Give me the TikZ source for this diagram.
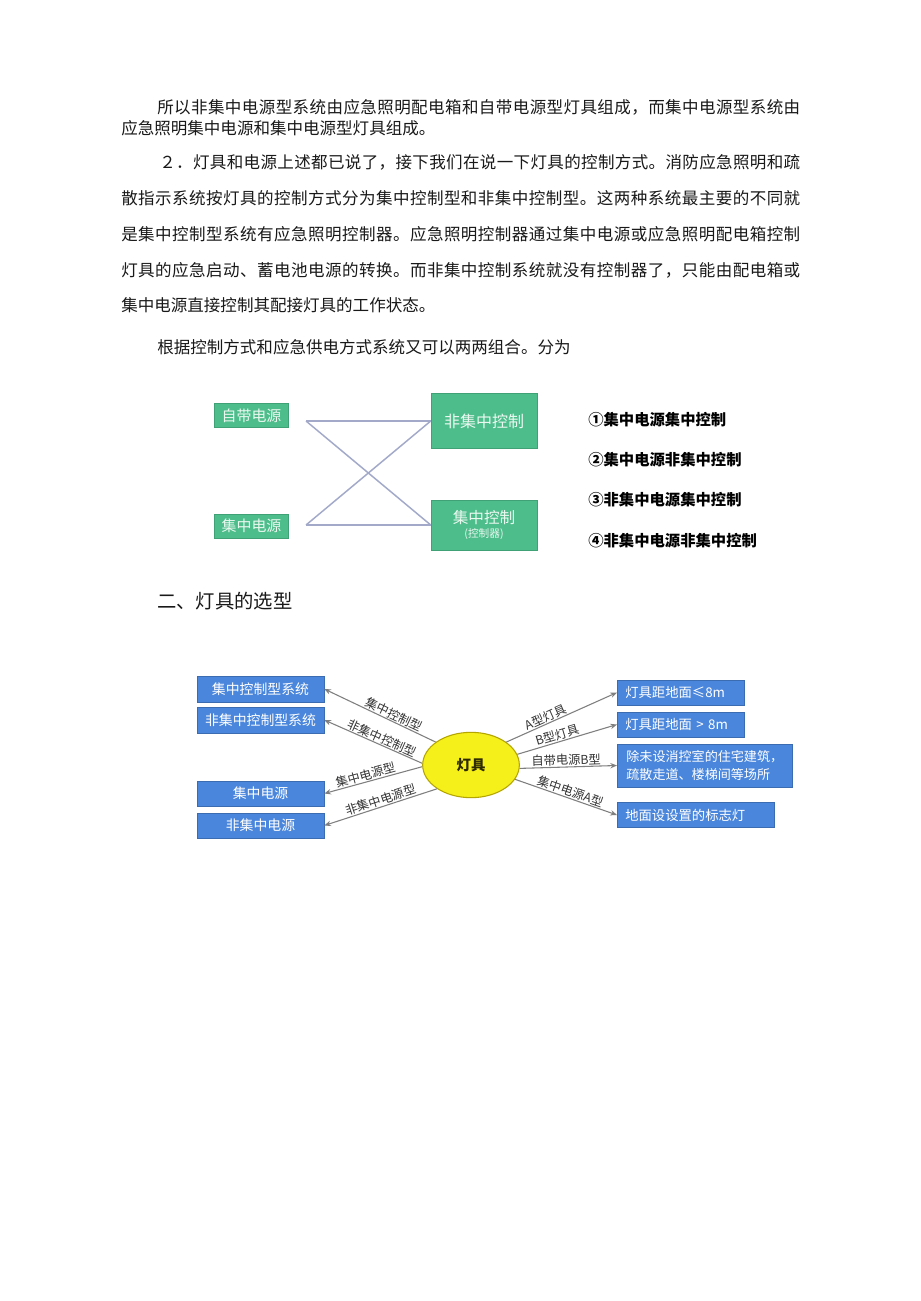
\documentclass[tikz,border=0pt]{standalone}
\usepackage{fontspec}
\setmainfont{Noto Sans CJK SC}
\usetikzlibrary{arrows.meta,shapes.geometric}
\ExplSyntaxOn
\NewDocumentCommand\jline{mm}{\makebox[#1][s]{\tl_map_inline:nn{#2}{##1\hfil}\unskip}}
\ExplSyntaxOff
\definecolor{green1}{HTML}{4DBD8B}
\definecolor{gtext}{HTML}{EAF8F0}
\definecolor{blue1}{HTML}{4A86DC}
\definecolor{linec}{HTML}{A2A9C9}
\definecolor{arrc}{HTML}{7F7F7F}
\definecolor{yel}{HTML}{F6F01A}
\definecolor{yelb}{HTML}{B5A500}
\begin{document}
\begin{tikzpicture}[x=0.75pt,y=-0.75pt,
  body/.style={anchor=west,inner sep=0pt,font=\fontsize{12.4}{14}\selectfont,text=black!90},
  gbox/.style={fill=green1,draw=green1!85!black,line width=0.4pt,inner sep=0pt,text=gtext},
  bbox/.style={fill=blue1,draw=blue1!80!black,line width=0.4pt,inner sep=0pt,text=white,font=\fontsize{10.4}{12}\selectfont},
  rbox/.style={bbox,anchor=west,inner xsep=6pt,minimum height=18.75pt,align=left,font=\fontsize{10}{12}\selectfont},
  xline/.style={draw=linec,line width=1.1pt},
  arr/.style={draw=arrc,line width=0.8pt,-{Stealth[length=5pt,width=4pt]}},
  lab/.style={sloped,above,inner sep=0.6pt,font=\fontsize{9.2}{10}\selectfont,text=black!80},
  listitem/.style={anchor=west,inner sep=0pt,font=\fontsize{11.5}{13}\selectfont\bfseries,text=black}
]
\useasboundingbox[fill=white] (0,0) rectangle (920,1301);

% body text
\node[body] (t1) at (157,107) {\jline{482.25pt}{所以非集中电源型系统由应急照明配电箱和自带电源型灯具组成，而集中电源型系统由}};
\node[body] (t2) at (121,128) {应急照明集中电源和集中电源型灯具组成。};
\node[body] (t3) at (159,162) {\jline{480.75pt}{２．灯具和电源上述都已说了，接下我们在说一下灯具的控制方式。消防应急照明和疏}};
\node[body] (t4) at (121,198) {\jline{509.25pt}{散指示系统按灯具的控制方式分为集中控制型和非集中控制型。这两种系统最主要的不同就}};
\node[body] (t5) at (121,234) {\jline{509.25pt}{是集中控制型系统有应急照明控制器。应急照明控制器通过集中电源或应急照明配电箱控制}};
\node[body] (t6) at (121,270) {\jline{509.25pt}{灯具的应急启动、蓄电池电源的转换。而非集中控制系统就没有控制器了，只能由配电箱或}};
\node[body] (t7) at (121,305) {集中电源直接控制其配接灯具的工作状态。};
\node[body] (t8) at (157,347) {根据控制方式和应急供电方式系统又可以两两组合。分为};

% diagram 1
\node[gbox,minimum width=55.5pt,minimum height=18pt,font=\fontsize{11.2}{12}\selectfont] (zd) at (251.5,415.5) {自带电源};
\node[gbox,minimum width=55.5pt,minimum height=18pt,font=\fontsize{11.2}{12}\selectfont] (jd) at (251.5,526) {集中电源};
\node[gbox,minimum width=79.5pt,minimum height=41.25pt,font=\fontsize{12}{13}\selectfont] (fk) at (484,421) {非集中控制};
\node[gbox,minimum width=79.5pt,minimum height=37.5pt,align=center] (jk) at (484,525) {\fontsize{11.7}{13}\selectfont 集中控制\\[-1pt]\fontsize{8}{9}\selectfont (控制器)};
\coordinate (pa) at (306,421);
\coordinate (pb) at (306,525);
\draw[xline] (pa) -- (fk.west);
\draw[xline] (pa) -- (jk.west);
\draw[xline] (pb) -- (jk.west);
\draw[xline] (pb) -- (fk.west);

\node[listitem] (l1) at (588,420) {①集中电源集中控制};
\node[listitem] (l2) at (588,460) {②集中电源非集中控制};
\node[listitem] (l3) at (588,500) {③非集中电源集中控制};
\node[listitem] (l4) at (588,541) {④非集中电源非集中控制};

% heading
\node[body,font=\fontsize{14.5}{16}\selectfont] (h) at (157,601) {二、灯具的选型};

% diagram 2
\node[ellipse,fill=yel,draw=yelb,line width=0.8pt,minimum width=72.5pt,minimum height=49pt,inner sep=0pt,font=\fontsize{10.8}{12}\selectfont\bfseries,text=black!75!yelb] (lamp) at (471,765) {灯具};

\node[bbox,minimum width=95.25pt,minimum height=19.5pt] (b1) at (260.5,689) {集中控制型系统};
\node[bbox,minimum width=95.25pt,minimum height=19.5pt] (b2) at (260.5,720) {非集中控制型系统};
\node[bbox,minimum width=95.25pt,minimum height=19pt] (b3) at (260.5,793.5) {集中电源};
\node[bbox,minimum width=95.25pt,minimum height=19pt] (b4) at (260.5,825.5) {非集中电源};

\node[rbox,text width=83.25pt] (r1) at (617,692.5) {灯具距地面≤8m};
\node[rbox,text width=83.25pt] (r2) at (617,724.5) {灯具距地面 > 8m};
\node[bbox,anchor=west,minimum width=131.25pt,minimum height=32.25pt,align=left,font=\fontsize{9.8}{14}\selectfont] (r3) at (617,765.5) {除未设消控室的住宅建筑，\\疏散走道、楼梯间等场所};
\node[rbox,text width=105.75pt] (r4) at (617,815) {地面设设置的标志灯};

\draw[arr] (lamp.147) -- node[lab,pos=0.40] {集中控制型} (b1.east);
\draw[arr] (lamp.178) -- node[lab,pos=0.44] {非集中控制型} (b2.east);
\draw[arr] (lamp.182) -- node[lab,pos=0.56] {集中电源型} (b3.east);
\draw[arr] (lamp.215) -- node[lab,pos=0.48] {非集中电源型} (b4.east);

\draw[arr] (lamp.33) -- node[lab,pos=0.38] {A型灯具} (r1.west);
\draw[arr] (lamp.13) -- node[lab,pos=0.42] {B型灯具} (r2.west);
\draw[arr] (lamp.-4.5) -- node[lab,pos=0.48] {自带电源B型} (r3.west);
\draw[arr] (lamp.-18) -- node[lab,pos=0.52] {集中电源A型} (r4.west);
\end{tikzpicture}
\end{document}
